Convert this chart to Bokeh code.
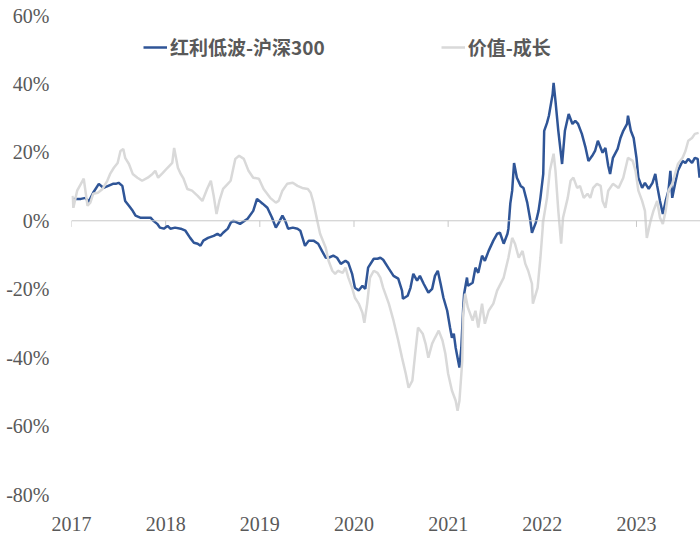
from bokeh.plotting import figure
from bokeh.models import (Range1d, FixedTicker, PrintfTickFormatter, Span,
                          Legend, LegendItem, ColumnDataSource)
from bokeh.embed import file_html
from bokeh.resources import INLINE

# ---- data (decimal year, % excess return) ----
years = [2017, 2018, 2019, 2020, 2021, 2022, 2023]
year_labels = ["2017", "2018", "2019", "2020", "2021", "2022", "2023"]
y_ticks = [-80, -60, -40, -20, 0, 20, 40, 60]

series_names = ["红利低波-沪深300", "价值-成长"]

blue_t = [2017.02, 2017.10, 2017.15, 2017.18, 2017.23, 2017.29, 2017.34, 2017.39, 2017.44, 2017.47,
          2017.50, 2017.54, 2017.57, 2017.61, 2017.65, 2017.68, 2017.73, 2017.81, 2017.84, 2017.87,
          2017.91, 2017.94, 2017.98, 2018.02, 2018.05, 2018.10, 2018.16, 2018.21, 2018.26, 2018.30,
          2018.34, 2018.37, 2018.40, 2018.45, 2018.51, 2018.55, 2018.58, 2018.61, 2018.66, 2018.69,
          2018.72, 2018.79, 2018.87, 2018.93, 2018.97, 2019.03, 2019.08, 2019.13, 2019.17, 2019.20,
          2019.24, 2019.27, 2019.30, 2019.35, 2019.40, 2019.43, 2019.48, 2019.52, 2019.57, 2019.62,
          2019.66, 2019.70, 2019.73, 2019.78, 2019.82, 2019.86, 2019.91, 2019.94, 2019.98, 2020.01,
          2020.05, 2020.09, 2020.12, 2020.15, 2020.21, 2020.25, 2020.28, 2020.31, 2020.37, 2020.42,
          2020.47, 2020.51, 2020.52, 2020.57, 2020.60, 2020.63, 2020.67, 2020.70, 2020.74, 2020.79,
          2020.83, 2020.86, 2020.89, 2020.92, 2020.95, 2020.99, 2021.02, 2021.04, 2021.06, 2021.08,
          2021.10, 2021.12, 2021.14, 2021.16, 2021.17, 2021.20, 2021.21, 2021.26, 2021.29, 2021.32,
          2021.36, 2021.39, 2021.43, 2021.48, 2021.52, 2021.55, 2021.59, 2021.63, 2021.64, 2021.66,
          2021.68, 2021.70, 2021.73, 2021.77, 2021.80, 2021.84, 2021.87, 2021.89, 2021.93, 2021.96,
          2021.98, 2022.01, 2022.02, 2022.05, 2022.07, 2022.11, 2022.12, 2022.14, 2022.17, 2022.21,
          2022.24, 2022.28, 2022.32, 2022.35, 2022.38, 2022.42, 2022.46, 2022.49, 2022.53, 2022.56,
          2022.59, 2022.64, 2022.67, 2022.70, 2022.72, 2022.75, 2022.80, 2022.83, 2022.86, 2022.90,
          2022.91, 2022.94, 2022.97, 2023.00, 2023.02, 2023.06, 2023.09, 2023.13, 2023.17, 2023.20,
          2023.22, 2023.25, 2023.28, 2023.31, 2023.34, 2023.36, 2023.38, 2023.41, 2023.44, 2023.49,
          2023.52, 2023.55, 2023.59, 2023.62, 2023.65, 2023.67]
blue_v = [6.4, 6.4, 6.7, 5.5, 8.2, 10.8, 9.6, 10.2, 10.8, 10.8,
          11.1, 10.2, 5.8, 4.4, 2.9, 1.5, 0.9, 0.9, 0.9, 0.0,
          -0.9, -2.0, -2.3, -1.5, -2.3, -2.0, -2.3, -2.9, -5.0, -6.4,
          -6.7, -7.3, -5.8, -5.0, -4.4, -3.8, -4.4, -3.5, -2.3, -0.6,
          0.0, -0.9, 0.6, 2.9, 6.4, 5.0, 3.8, 0.9, -2.0, -0.6,
          1.5, 0.0, -2.3, -2.0, -2.3, -2.9, -7.3, -5.8, -5.8, -6.7,
          -8.8, -10.8, -10.8, -10.2, -10.8, -12.6, -11.7, -12.3, -15.5, -19.6,
          -20.4, -19.0, -19.9, -13.7, -11.1, -11.1, -10.8, -11.4, -14.0, -16.1,
          -16.9, -20.4, -22.8, -21.9, -19.6, -15.5, -17.5, -16.1, -18.4, -21.0,
          -19.9, -16.1, -14.6, -18.4, -22.5, -26.3, -31.2, -34.2, -33.0, -37.1,
          -40.0, -42.9, -37.1, -25.4, -21.3, -16.6, -19.0, -18.1, -13.7, -15.2,
          -10.2, -11.7, -8.8, -5.8, -3.8, -3.5, -6.7, -3.8, -2.3, 5.0,
          8.8, 16.9, 12.6, 10.2, 9.6, 5.3, 0.6, -3.5, -0.6, 2.9,
          6.7, 13.7, 26.3, 28.6, 30.7, 37.1, 40.3, 35.0, 26.3, 16.6,
          26.3, 31.2, 28.3, 29.2, 28.3, 25.4, 21.3, 17.5, 19.0, 20.4,
          23.4, 19.9, 21.3, 16.1, 13.7, 18.4, 21.0, 24.2, 26.3, 28.3,
          30.7, 26.3, 24.2, 18.4, 12.6, 9.6, 11.1, 9.3, 11.1, 13.7,
          10.2, 5.8, 2.0, 5.8, 8.8, 14.6, 6.7, 10.8, 14.6, 17.5,
          16.9, 18.1, 16.9, 18.4, 18.1, 12.6]

gray_t = [2017.01, 2017.02, 2017.06, 2017.10, 2017.13, 2017.17, 2017.20, 2017.23, 2017.28, 2017.33,
          2017.38, 2017.41, 2017.45, 2017.49, 2017.52, 2017.55, 2017.57, 2017.61, 2017.65, 2017.70,
          2017.75, 2017.81, 2017.86, 2017.89, 2017.92, 2017.97, 2018.02, 2018.07, 2018.09, 2018.13,
          2018.16, 2018.19, 2018.23, 2018.28, 2018.34, 2018.39, 2018.44, 2018.48, 2018.51, 2018.54,
          2018.57, 2018.61, 2018.66, 2018.69, 2018.74, 2018.78, 2018.83, 2018.88, 2018.93, 2018.99,
          2019.04, 2019.11, 2019.17, 2019.20, 2019.24, 2019.29, 2019.35, 2019.40, 2019.45, 2019.51,
          2019.54, 2019.57, 2019.61, 2019.64, 2019.70, 2019.73, 2019.77, 2019.80, 2019.83, 2019.88,
          2019.91, 2019.94, 2019.98, 2020.01, 2020.05, 2020.09, 2020.11, 2020.14, 2020.17, 2020.21,
          2020.25, 2020.28, 2020.31, 2020.37, 2020.42, 2020.47, 2020.51, 2020.55, 2020.58, 2020.62,
          2020.65, 2020.68, 2020.73, 2020.76, 2020.79, 2020.83, 2020.86, 2020.90, 2020.94, 2020.97,
          2021.00, 2021.04, 2021.08, 2021.10, 2021.12, 2021.15, 2021.16, 2021.18, 2021.21, 2021.26,
          2021.29, 2021.32, 2021.36, 2021.39, 2021.43, 2021.48, 2021.52, 2021.59, 2021.64, 2021.68,
          2021.71, 2021.75, 2021.79, 2021.82, 2021.85, 2021.89, 2021.90, 2021.95, 2021.98, 2022.01,
          2022.05, 2022.08, 2022.12, 2022.14, 2022.17, 2022.20, 2022.22, 2022.27, 2022.30, 2022.33,
          2022.37, 2022.40, 2022.44, 2022.48, 2022.51, 2022.54, 2022.58, 2022.62, 2022.64, 2022.67,
          2022.70, 2022.75, 2022.81, 2022.86, 2022.91, 2022.96, 2022.99, 2023.02, 2023.06, 2023.09,
          2023.11, 2023.15, 2023.18, 2023.22, 2023.25, 2023.28, 2023.31, 2023.34, 2023.38, 2023.41,
          2023.44, 2023.49, 2023.52, 2023.55, 2023.59, 2023.62, 2023.66]
gray_v = [7.3, 3.8, 8.8, 10.8, 12.3, 4.4, 5.3, 7.9, 8.2, 9.3,
          11.7, 13.7, 15.5, 16.9, 20.4, 21.0, 18.4, 16.6, 13.7, 12.6,
          11.7, 12.6, 13.7, 14.6, 12.6, 14.0, 15.5, 16.9, 21.3, 15.5,
          13.7, 12.3, 9.3, 8.8, 7.3, 5.8, 9.3, 11.7, 7.3, 2.0,
          5.8, 9.3, 10.8, 11.7, 18.1, 19.0, 18.1, 14.6, 12.6, 12.3,
          9.3, 6.7, 5.3, 5.8, 8.8, 10.8, 11.1, 10.2, 9.6, 9.3,
          8.2, 5.3, 0.0, -3.8, -7.9, -11.7, -14.6, -15.5, -14.6, -15.2,
          -13.7, -16.6, -19.6, -22.5, -24.2, -26.9, -29.8, -24.2, -16.6, -14.6,
          -15.2, -16.6, -19.6, -24.2, -29.2, -35.0, -40.0, -44.7, -48.8, -46.7,
          -38.8, -31.2, -33.0, -35.9, -40.0, -35.9, -34.2, -32.1, -35.0, -38.8,
          -44.7, -49.6, -52.6, -55.5, -52.6, -40.9, -27.2, -21.3, -25.4, -29.2,
          -26.3, -31.2, -24.2, -30.1, -26.3, -24.2, -20.4, -16.6, -10.8, -5.0,
          -6.7, -10.8, -8.8, -12.6, -14.6, -18.4, -24.2, -19.6, -10.8, 0.0,
          6.7, 14.6, 19.6, 14.6, 2.9, -6.7, 0.9, 6.7, 11.7, 12.6,
          9.6, 10.2, 6.7, 7.9, 6.7, 9.6, 10.8, 10.2, 5.8, 3.8,
          8.8, 10.8, 9.6, 12.6, 18.4, 17.5, 14.6, 8.8, 5.8, 2.9,
          -5.0, 0.0, 2.9, 5.8, 0.9, -0.9, 2.9, 8.8, 10.8, 13.7,
          16.6, 18.4, 20.4, 23.4, 24.2, 25.4, 25.7]

# ---- styling ----
BLUE = "#2F5597"
GRAY = "#D9D9D9"
TEXT = "#595959"
NUM_FONT = "Liberation Serif"
CJK_FONT = "Noto Sans CJK SC"

p = figure(width=700, height=541, output_backend="svg", toolbar_location=None,
           x_range=Range1d(2017, 2023.68), y_range=Range1d(-80, 60),
           min_border_left=71, min_border_right=0, min_border_top=15,
           min_border_bottom=47)
p.outline_line_color = None
p.xgrid.visible = False
p.ygrid.visible = False
p.background_fill_color = "white"
p.border_fill_color = "white"

# zero line with small year ticks hanging from it
p.add_layout(Span(location=0, dimension="width", line_color="#C8C8C8", line_width=1))
p.segment(x0=years, y0=[0] * len(years), x1=years, y1=[-1.8] * len(years),
          line_color="#C8C8C8", line_width=1)

src_b = ColumnDataSource(dict(t=blue_t, v=blue_v))
src_g = ColumnDataSource(dict(t=gray_t, v=gray_v))
r_blue = p.line("t", "v", source=src_b, line_color=BLUE, line_width=2.5)
r_gray = p.line("t", "v", source=src_g, line_color=GRAY, line_width=2.5)

# axes
xa = p.xaxis[0]
xa.ticker = FixedTicker(ticks=years)
xa.major_label_overrides = {y: s for y, s in zip(years, year_labels)}
xa.axis_line_color = None
xa.major_tick_line_color = None
xa.minor_tick_line_color = None
xa.major_tick_out = 0
xa.major_label_standoff = 22
xa.major_label_text_font = NUM_FONT
xa.major_label_text_font_size = "20px"
xa.major_label_text_color = TEXT

ya = p.yaxis[0]
ya.ticker = FixedTicker(ticks=y_ticks)
ya.formatter = PrintfTickFormatter(format="%d%%")
ya.axis_line_color = None
ya.major_tick_line_color = None
ya.minor_tick_line_color = None
ya.major_tick_out = 0
ya.major_label_standoff = 22
ya.major_label_text_font = NUM_FONT
ya.major_label_text_font_size = "20px"
ya.major_label_text_color = TEXT

legend = Legend(items=[LegendItem(label=series_names[0], renderers=[r_blue]),
                       LegendItem(label=series_names[1], renderers=[r_gray])],
                orientation="horizontal", location=(72, 434))
legend.margin = 0
legend.padding = 0
legend.spacing = 116
legend.glyph_width = 24
legend.glyph_height = 20
legend.label_height = 20
legend.label_standoff = 3
legend.label_text_font = CJK_FONT
legend.label_text_font_style = "bold"
legend.label_text_font_size = "19px"
legend.label_text_color = TEXT
legend.background_fill_alpha = 0
legend.border_line_alpha = 0
p.add_layout(legend)

open("out.html", "w").write(file_html(p, INLINE))
